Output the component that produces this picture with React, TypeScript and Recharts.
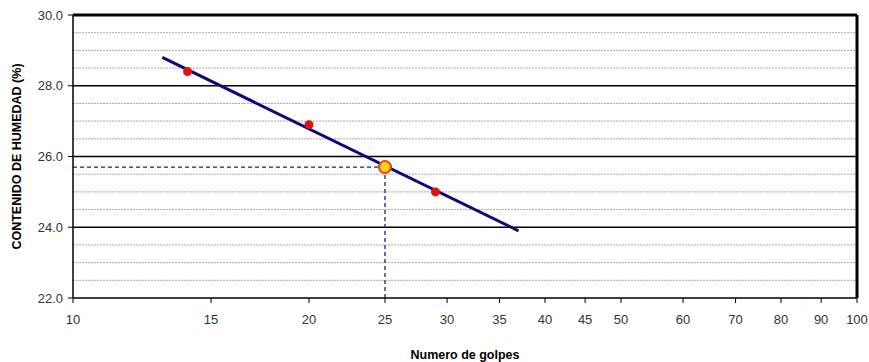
import { ScatterChart, Scatter, XAxis, YAxis, ReferenceLine, ReferenceDot } from 'recharts'

const xTicks = [10, 15, 20, 25, 30, 35, 40, 45, 50, 60, 70, 80, 90, 100]
const yTicks = [22, 24, 26, 28, 30]
const minorY = [22.5, 23, 23.5, 24.5, 25, 25.5, 26.5, 27, 27.5, 28.5, 29, 29.5]

const golpes = [14, 20, 29]
const humedad = [28.4, 26.9, 25.0]

const trendX = [13, 37]
const trendY = [28.8, 23.9]

const puntoGolpes = 25
const puntoHumedad = 25.7

const points = golpes.map((x, i) => ({ x, y: humedad[i] }))
const trend = trendX.map((x, i) => ({ x, y: trendY[i] }))

const font = '"Liberation Sans", Arial, sans-serif'
const tickStyle = { fontSize: 13, fill: '#333', fontFamily: font }

export default function App() {
  return (
    <div style={{ position: 'absolute', left: 0, top: 0, width: 869, height: 362, background: '#fff' }}>
      <ScatterChart width={869} height={362} margin={{ top: 15, right: 12, bottom: 0, left: 0 }}>
        <XAxis
          type="number"
          dataKey="x"
          scale="log"
          domain={[10, 100]}
          ticks={xTicks}
          allowDataOverflow
          height={64}
          tickSize={5}
          tickMargin={12}
          tick={tickStyle}
          axisLine={{ stroke: '#000', strokeWidth: 1.5 }}
          tickLine={{ stroke: '#000' }}
          label={{
            value: 'Numero de golpes',
            position: 'insideBottom',
            offset: 3,
            style: { fontSize: 12.5, fontWeight: 'bold', fill: '#000', fontFamily: font },
          }}
        />
        <YAxis
          type="number"
          dataKey="y"
          domain={[22, 30]}
          ticks={yTicks}
          allowDataOverflow
          width={73}
          tickSize={5}
          tickMargin={5}
          tick={tickStyle}
          tickFormatter={(v: number) => v.toFixed(1)}
          axisLine={{ stroke: '#000', strokeWidth: 1.5 }}
          tickLine={{ stroke: '#000' }}
          label={{
            value: 'CONTENIDO DE HUMEDAD (%)',
            angle: -90,
            position: 'insideLeft',
            offset: 17,
            style: { textAnchor: 'middle', fontSize: 12.5, fontWeight: 'bold', fill: '#000', fontFamily: font },
          }}
        />
        {minorY.map((v) => (
          <ReferenceLine key={'m' + v} y={v} stroke="#a8a8a8" strokeDasharray="2 1" />
        ))}
        {yTicks.slice(1, 4).map((v) => (
          <ReferenceLine key={'M' + v} y={v} stroke="#000" strokeWidth={1.5} />
        ))}
        <ReferenceLine y={30} stroke="#000" strokeWidth={3} />
        <ReferenceLine x={100} stroke="#000" strokeWidth={3} />
        <ReferenceLine
          segment={[{ x: 10, y: puntoHumedad }, { x: puntoGolpes, y: puntoHumedad }]}
          stroke="#1f1f80"
          strokeWidth={1.3}
          strokeDasharray="4 3"
        />
        <ReferenceLine
          segment={[{ x: puntoGolpes, y: 22 }, { x: puntoGolpes, y: puntoHumedad }]}
          stroke="#1f1f80"
          strokeWidth={1.3}
          strokeDasharray="4 3"
        />
        <Scatter
          data={trend}
          line={{ stroke: '#0a0a78', strokeWidth: 3 }}
          lineType="joint"
          shape={() => null}
          isAnimationActive={false}
        />
        <Scatter data={points} fill="#e31010" isAnimationActive={false} shape={(p: any) => <circle cx={p.cx} cy={p.cy} r={4.5} fill="#e31010" />} />
        <ReferenceDot x={puntoGolpes} y={puntoHumedad} r={6} fill="#ffd21a" stroke="#e8401a" strokeWidth={2} />
      </ScatterChart>
    </div>
  )
}
